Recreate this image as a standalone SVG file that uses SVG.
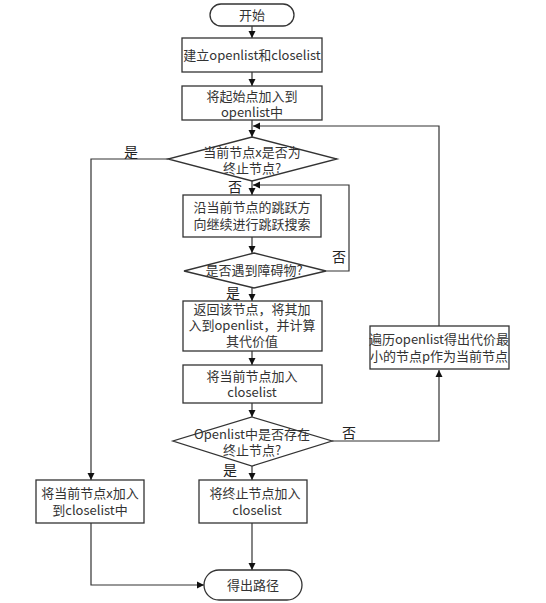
<svg xmlns="http://www.w3.org/2000/svg" width="546" height="603" viewBox="0 0 546 603">
<style>
.n{fill:#fff;stroke:#333;stroke-width:1.3}
.t{font-family:"Noto Sans CJK SC","Noto Sans",sans-serif;font-size:13px;fill:#333;text-anchor:middle}
.l{font-family:"Noto Sans CJK SC","Noto Sans",sans-serif;font-size:14px;fill:#222;text-anchor:middle}
.e{fill:none;stroke:#333;stroke-width:1.2}
</style>
<defs>
<marker id="a" markerWidth="8" markerHeight="8" refX="7" refY="4" orient="auto" markerUnits="userSpaceOnUse">
<path d="M0,0.5 L7,4 L0,7.5 Z" fill="#111"/>
</marker>
</defs>
<rect width="546" height="603" fill="#fff"/>
<g id="edges">
<path class="e" d="M252,26 V38" marker-end="url(#a)"/>
<path class="e" d="M252,72 V86" marker-end="url(#a)"/>
<path class="e" d="M252,120 V137" marker-end="url(#a)"/>
<path class="e" d="M168,159 H91 V480" marker-end="url(#a)"/>
<path class="e" d="M252,181 V195" marker-end="url(#a)"/>
<path class="e" d="M252,237 V253" marker-end="url(#a)"/>
<path class="e" d="M326,271 H349 V185 H253" marker-end="url(#a)"/>
<path class="e" d="M252,288 V301" marker-end="url(#a)"/>
<path class="e" d="M252,351 V365" marker-end="url(#a)"/>
<path class="e" d="M252,403 V417" marker-end="url(#a)"/>
<path class="e" d="M332,441 H439 V370" marker-end="url(#a)"/>
<path class="e" d="M439,326 V126 H253" marker-end="url(#a)"/>
<path class="e" d="M252,466 V480" marker-end="url(#a)"/>
<path class="e" d="M252,523 V570" marker-end="url(#a)"/>
<path class="e" d="M91,523 V585 H204" marker-end="url(#a)"/>
<text class="l" x="131" y="157">是</text>
<text class="l" x="235" y="192">否</text>
<text class="l" x="339" y="262">否</text>
<text class="l" x="233" y="298">是</text>
<text class="l" x="349" y="438">否</text>
<text class="l" x="230" y="475">是</text>
</g>
<g id="start">
<rect class="n" x="210" y="4" width="84" height="22" rx="11"/>
<text class="t" x="252" y="20">开始</text>
</g>
<g id="create">
<rect class="n" x="182" y="38" width="140" height="34"/>
<text class="t" x="252" y="60">建立openlist和closelist</text>
</g>
<g id="addstart">
<rect class="n" x="182" y="86" width="140" height="34"/>
<text class="t" x="252" y="101">将起始点加入到</text>
<text class="t" x="252" y="117">openlist中</text>
</g>
<g id="isend">
<polygon class="n" points="252,137 337,159 252,181 168,159"/>
<text class="t" x="252" y="157">当前节点x是否为</text>
<text class="t" x="252" y="173">终止节点?</text>
</g>
<g id="jump">
<rect class="n" x="183" y="195" width="138" height="42"/>
<text class="t" x="252" y="212">沿当前节点的跳跃方</text>
<text class="t" x="252" y="229">向继续进行跳跃搜索</text>
</g>
<g id="obstacle">
<polygon class="n" points="254,253 326,271 254,288 184,271"/>
<text class="t" x="254" y="275">是否遇到障碍物?</text>
</g>
<g id="back">
<rect class="n" x="183" y="301" width="139" height="50"/>
<text class="t" x="252" y="314">返回该节点，将其加</text>
<text class="t" x="252" y="330">入到openlist，并计算</text>
<text class="t" x="252" y="346">其代价值</text>
</g>
<g id="addclose">
<rect class="n" x="183" y="365" width="139" height="38"/>
<text class="t" x="252" y="381">将当前节点加入</text>
<text class="t" x="252" y="397">closelist</text>
</g>
<g id="exists">
<polygon class="n" points="252,417 332,441 252,466 173,441"/>
<text class="t" x="252" y="439">Openlist中是否存在</text>
<text class="t" x="252" y="455">终止节点?</text>
</g>
<g id="traverse">
<rect class="n" x="370" y="326" width="139" height="43"/>
<text class="t" x="439" y="344">遍历openlist得出代价最</text>
<text class="t" x="439" y="361">小的节点p作为当前节点</text>
</g>
<g id="addend">
<rect class="n" x="199" y="480" width="108" height="43"/>
<text class="t" x="255" y="498">将终止节点加入</text>
<text class="t" x="257" y="515">closelist</text>
</g>
<g id="addx">
<rect class="n" x="36" y="480" width="108" height="43"/>
<text class="t" x="90" y="498">将当前节点x加入</text>
<text class="t" x="90" y="515">到closelist中</text>
</g>
<g id="end">
<rect class="n" x="204" y="570" width="98" height="30" rx="15"/>
<text class="t" x="253" y="590">得出路径</text>
</g>
</svg>
